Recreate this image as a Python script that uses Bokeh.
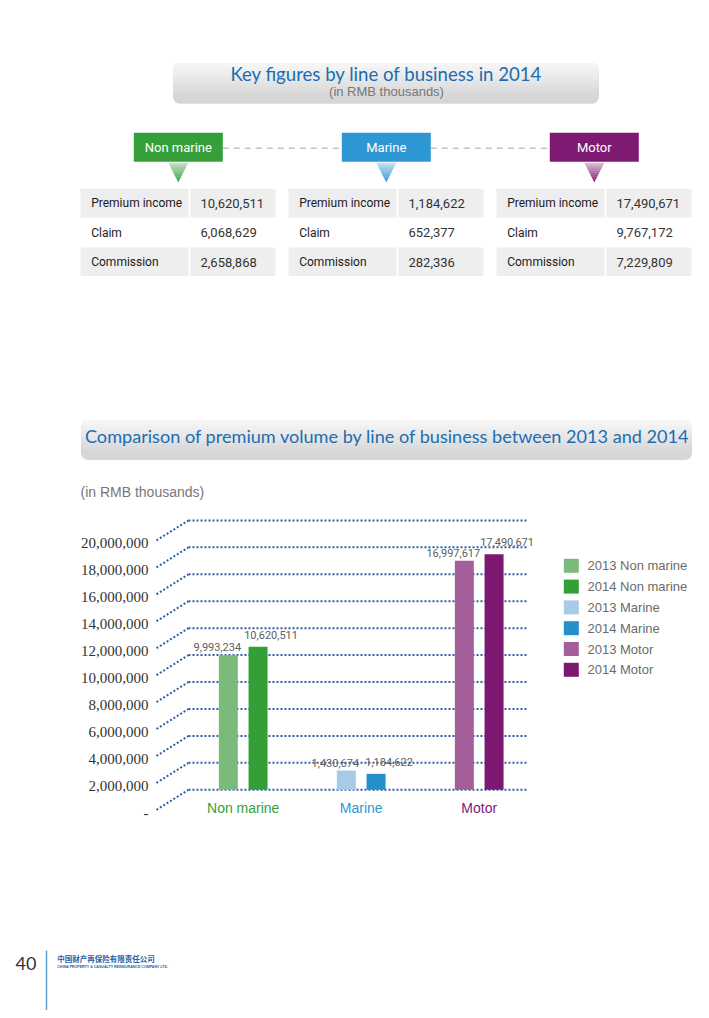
from bokeh.plotting import figure
from bokeh.models import Range1d, BoxAnnotation
from bokeh.core.properties import value
from bokeh.embed import file_html
from bokeh.resources import INLINE

# ---------------- data ----------------
lines = ["Non marine", "Marine", "Motor"]
metrics = ["Premium income", "Claim", "Commission"]
premium_2014 = [10620511, 1184622, 17490671]
claim_2014 = [6068629, 652377, 9767172]
commission_2014 = [2658868, 282336, 7229809]
premium_2013 = [9993234, 1430674, 16997617]
years = ["2013", "2014"]
y_ticks = [0, 2000000, 4000000, 6000000, 8000000, 10000000,
           12000000, 14000000, 16000000, 18000000, 20000000]
y_tick_labels = ["-" if t == 0 else f"{t:,}" for t in y_ticks]
line_colors = ["#35a03a", "#2d97d3", "#7f1a73"]
colors_2013 = ["#7aba7a", "#a6cbe8", "#a45e9a"]
colors_2014 = ["#349e37", "#2390c9", "#7c1870"]

TITLE1 = "Key figures by line of business in 2014"
TITLE2 = "Comparison of premium volume by line of business between 2013 and 2014"
UNIT = "(in RMB thousands)"


def mix(c1, c2, t):
    a = [int(c1[i:i + 2], 16) for i in (1, 3, 5)]
    b = [int(c2[i:i + 2], 16) for i in (1, 3, 5)]
    return "#%02x%02x%02x" % tuple(round(a[k] + (b[k] - a[k]) * t) for k in range(3))


# ---------------- canvas (page pixel coordinates) ----------------
W, H = 701, 1010
p = figure(width=W, height=H, x_range=Range1d(0, W), y_range=Range1d(H, 0),
           output_backend="svg", toolbar_location=None, min_border=0,
           x_axis_type=None, y_axis_type=None)
p.outline_line_color = None
p.background_fill_color = "white"
p.border_fill_color = "white"
for g in p.grid:
    g.visible = False

# chart scales
K = 13.47 / 1e6        # px per unit
ZERO_Y = 789.3
GX0, GW = 242.7, 118.0
p.extra_y_ranges = {"val": Range1d((ZERO_Y - H) / K, ZERO_Y / K)}
p.extra_x_ranges = {"grp": Range1d(-GX0 / GW, (W - GX0) / GW)}


def grad_box(left, right, top, bottom, c_top="#f8f8f8", c_bot="#d6d6d6", n=12, r=7):
    p.add_layout(BoxAnnotation(left=left - 0.5, right=right + 0.5, top=top + 1, bottom=bottom + 1.5,
                               fill_color="#c4c4c4", fill_alpha=0.7, line_color=None,
                               border_radius=r, level="underlay"))
    p.add_layout(BoxAnnotation(left=left, right=right, top=top, bottom=bottom,
                               fill_color=c_bot, fill_alpha=1, line_color=None,
                               border_radius=r, level="underlay"))
    h = bottom - top - (r + 1)
    for i in range(n):
        t = 1 - i / n
        p.add_layout(BoxAnnotation(left=left, right=right, top=top, bottom=top + h * t + 0.5,
                                   fill_color=mix(c_top, c_bot, t * 0.9), fill_alpha=1,
                                   line_color=None, border_radius=(r, r, 0, 0), level="underlay"))


# ---------------- top section ----------------
grad_box(173, 598, 63, 101.7)
p.text(x=[386], y=[73.5], text=[TITLE1], text_font=value("Lato"), text_font_size="18.6px",
       text_color="#1b6db3", text_align="center", text_baseline="middle")
p.text(x=[386], y=[90.5], text=[UNIT], text_font=value("Liberation Sans"), text_font_size="13px",
       text_color="#777777", text_align="center", text_baseline="middle")

box_cx = [177.8 + 208 * i for i in range(len(lines))]
p.segment(x0=[box_cx[i] + 44.5 for i in range(2)], x1=[box_cx[i + 1] - 44.5 for i in range(2)],
          y0=147.7, y1=147.7, line_color="#c3c3c3", line_width=1.5, line_dash="6 5")
p.rect(x=box_cx, y=146.7, width=89, height=29, fill_color=line_colors, line_color=None)
p.text(x=box_cx, y=147, text=lines, text_font=value("Roboto"), text_font_size="13px",
       text_color="white", text_align="center", text_baseline="middle")

# gradient triangles
xs, ys, cs = [], [], []
T0, T1, HW, NS = 162.3, 181.7, 10.0, 10
for i, cx in enumerate(box_cx):
    light = mix(line_colors[i], "#ffffff", 0.7)
    for s in range(NS):
        ya, yb = T0 + (T1 - T0) * s / NS, T0 + (T1 - T0) * (s + 1) / NS
        wa, wb = HW * (1 - s / NS), HW * (1 - (s + 1) / NS)
        xs.append([cx - wa, cx + wa, cx + wb, cx - wb])
        ys.append([ya, ya, yb + 0.3, yb + 0.3])
        cs.append(mix(light, line_colors[i], s / (NS - 1)))
p.patches(xs=xs, ys=ys, fill_color=cs, line_color=None)

# tables
table_vals = [premium_2014, claim_2014, commission_2014]
ROW0, RH = 188.3, 29.3
lq, rq, tq, bq = [], [], [], []
tx, ty, tt, vx, vt = [], [], [], [], []
for i in range(len(lines)):
    base = 80 + 208 * i
    for r in range(len(metrics)):
        top = ROW0 + RH * r
        if r != 1:
            lq += [base, base + 110]
            rq += [base + 108, base + 195]
            tq += [top, top]
            bq += [top + RH - 0.7, top + RH - 0.7]
        ty.append(top + RH / 2)
        tx.append(base + 10.7)
        tt.append(metrics[r])
        vx.append(base + 120)
        vt.append(f"{table_vals[r][i]:,}")
p.quad(left=lq, right=rq, top=tq, bottom=bq, fill_color="#eeeeee", line_color=None)
p.text(x=tx, y=ty, text=tt, text_font=value("Roboto"), text_font_size="12px",
       text_color="#1a1a1a", text_baseline="middle")
p.text(x=vx, y=ty, text=vt, text_font=value("Roboto"), text_font_size="13px",
       text_color="#333333", text_baseline="middle")

# ---------------- chart section ----------------
grad_box(81, 691, 420, 458)
p.text(x=[387], y=[435.5], text=[TITLE2], text_font=value("Lato"), text_font_size="18.1px",
       text_color="#1b6db3", text_align="center", text_baseline="middle")
p.text(x=[80], y=[491], text=[UNIT], text_font=value("Liberation Sans"), text_font_size="14px",
       text_color="#777777", text_baseline="middle")

DOT = "#2b5fa8"
p.segment(x0=188, x1=528, y0=y_ticks, y1=y_ticks, y_range_name="val",
          line_color=DOT, line_width=2, line_dash="2 2")
p.segment(x0=156, x1=188, y0=[t - 20 / K for t in y_ticks], y1=y_ticks, y_range_name="val",
          line_color=DOT, line_width=2, line_dash="2 2")
p.text(x=148, y=[t - 23 / K for t in y_ticks], text=y_tick_labels, y_range_name="val",
       text_font=value("Liberation Serif"), text_font_size="15px", text_color="#333333",
       text_align="right", text_baseline="middle")

OFF, BW = 0.126, 0.161
gx = list(range(len(lines)))
p.vbar(x=[g - OFF for g in gx], top=premium_2013, bottom=0, width=BW, fill_color=colors_2013,
       line_color=None, x_range_name="grp", y_range_name="val")
p.vbar(x=[g + OFF for g in gx], top=premium_2014, bottom=0, width=BW, fill_color=colors_2014,
       line_color=None, x_range_name="grp", y_range_name="val")
p.text(x=[g - OFF for g in gx], y=premium_2013, text=[f"{v:,}" for v in premium_2013],
       x_offset=-11, y_offset=-4, x_range_name="grp", y_range_name="val",
       text_font=value("Roboto"), text_font_size="11px", text_color="#5e5e5e",
       text_align="center", text_baseline="bottom")
p.text(x=[g + OFF for g in gx], y=premium_2014, text=[f"{v:,}" for v in premium_2014],
       x_offset=13, y_offset=-8, x_range_name="grp", y_range_name="val",
       text_font=value("Roboto"), text_font_size="11px", text_color="#5e5e5e",
       text_align="center", text_baseline="bottom")
p.text(x=gx, y=807, text=lines, x_range_name="grp", text_color=line_colors,
       text_font=value("Liberation Sans"), text_font_size="14px",
       text_align="center", text_baseline="middle")

# legend
leg_labels, leg_colors = [], []
for i in range(len(lines)):
    for yr, cl in zip(years, [colors_2013, colors_2014]):
        leg_labels.append(f"{yr} {lines[i]}")
        leg_colors.append(cl[i])
leg_y = [565.3 + 20.8 * j for j in range(len(leg_labels))]
p.rect(x=570.8, y=leg_y, width=15, height=14, fill_color=leg_colors, line_color=None)
p.text(x=587, y=leg_y, text=leg_labels, text_font=value("Liberation Sans"), text_font_size="13px",
       text_color="#6b6b6b", text_baseline="middle")

# ---------------- footer ----------------
p.text(x=[25.5], y=[963], text=["40"], text_font=value("Lato"), text_font_size="18px",
       text_color="#333333", text_align="center", text_baseline="middle")
p.segment(x0=[46], x1=[46], y0=[950], y1=[H], line_color="#5aa0d8", line_width=1.5)
p.text(x=[56.7], y=[957.5], text=["中国财产再保险有限责任公司"], text_font=value("Noto Sans CJK SC"),
       text_font_size="7.5px", text_font_style="bold", text_color="#1f5fa6", text_baseline="middle")
p.text(x=[56.7], y=[966], text=["CHINA PROPERTY & CASUALTY REINSURANCE COMPANY LTD."],
       text_font=value("Liberation Sans"), text_font_size="3.6px", text_font_style="bold",
       text_color="#1f5fa6", text_baseline="middle")

open("out.html", "w").write(file_html(p, INLINE))
